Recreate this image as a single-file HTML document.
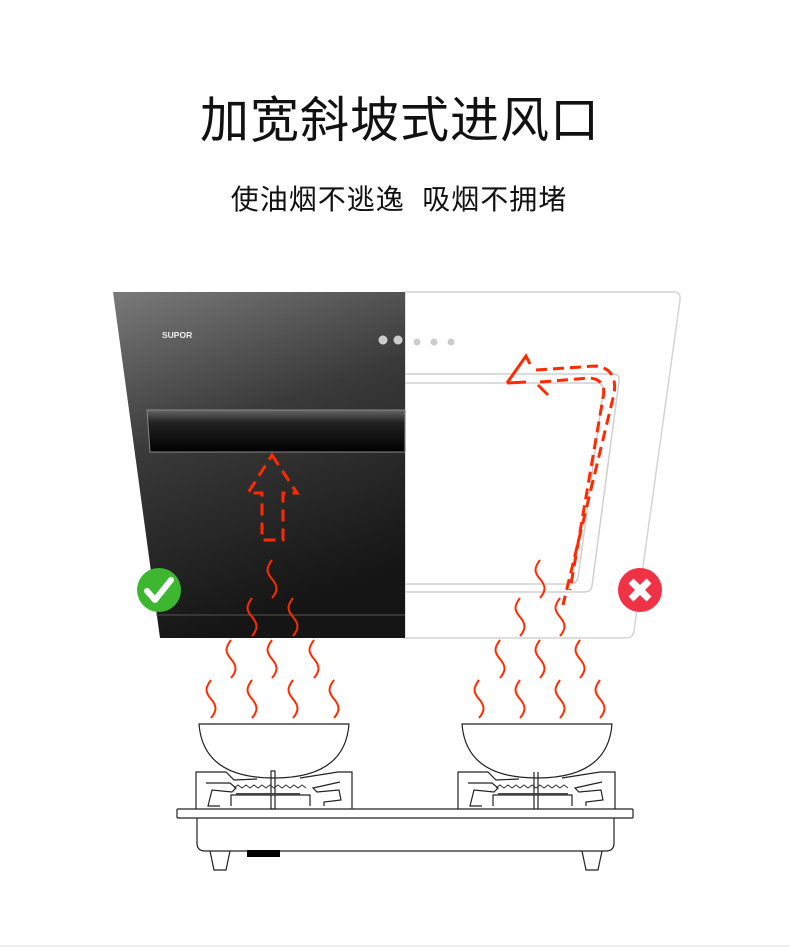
<!DOCTYPE html>
<html><head><meta charset="utf-8"><style>
html,body{margin:0;padding:0;background:#fff;}
body{width:790px;height:950px;overflow:hidden;position:relative;}
.t{position:absolute;left:0;width:790px;text-align:center;font-family:"Liberation Sans","Noto Sans CJK SC",sans-serif;color:#111;}
</style></head><body>
<div class="t" style="top:81px;left:5px;font-size:49px;letter-spacing:1px;">加宽斜坡式进风口</div>
<div class="t" style="top:178px;left:4px;font-size:28px;letter-spacing:1px;">使油烟不逃逸&nbsp;&nbsp;吸烟不拥堵</div>
<svg width="790" height="950" style="position:absolute;left:0;top:0">
<defs>
<linearGradient id="dk" x1="0" y1="0" x2="0.3" y2="1"><stop offset="0" stop-color="#7a7a7a"/><stop offset="0.45" stop-color="#3a3a3a"/><stop offset="1" stop-color="#151515"/></linearGradient>
<linearGradient id="bar" x1="0" y1="0" x2="0" y2="1"><stop offset="0" stop-color="#666"/><stop offset="0.3" stop-color="#222"/><stop offset="1" stop-color="#000"/></linearGradient>
<path id="sq" d="M0,0 c-6,8 -6,12 0,19 c6,7 6,12 0,19" fill="none" stroke="#ff2a00" stroke-width="2"/>
</defs>
<path d="M405,292 L674,292 Q681,292 680,300 L634,631 Q633,638 626,638 L405,638 Z" fill="#fff" stroke="#d4d4d4" stroke-width="1.5"/>
<path d="M405,374 L613,374 Q620,374 619,381 L592,586 Q591,592 584,592 L405,592" fill="none" stroke="#d0d0d0" stroke-width="1.5"/>
<path d="M405,383 L598,383 Q604,384 603,392 L578,578 Q576,584 570,584 L405,584" fill="none" stroke="#d0d0d0" stroke-width="1.5"/>
<circle cx="417" cy="342" r="3.5" fill="#ccc"/><circle cx="434" cy="342" r="3.5" fill="#ccc"/><circle cx="451" cy="342" r="3.5" fill="#ccc"/>
<path d="M113,292 L405,292 L405,638 L160,638 Z" fill="url(#dk)"/>
<path d="M147,410 L405,410 L405,452 L150,452 Z" fill="url(#bar)" stroke="#888" stroke-width="1"/>
<line x1="156" y1="615" x2="405" y2="615" stroke="#555" stroke-width="1"/>
<text x="162" y="338" font-family="Liberation Sans,sans-serif" font-size="8.5" font-weight="bold" fill="#eee">SUPOR</text>
<circle cx="383" cy="340" r="4.5" fill="#ccc"/><circle cx="398" cy="340" r="4.5" fill="#ccc"/>
<path d="M272,455 L297,493 L283,493 L283,540 L262,540 L262,493 L248,493 Z" fill="none" stroke="#ff2a00" stroke-width="3" stroke-dasharray="12,7"/>
<path d="M536,370 L595,366 Q618,368 614,394 L563,605" fill="none" stroke="#ff2a00" stroke-width="3" stroke-dasharray="11,6"/>
<path d="M540,382 L590,378 Q607,380 603,398 L570,590" fill="none" stroke="#ff2a00" stroke-width="3" stroke-dasharray="11,6"/>
<path d="M507,383 L526,356 L530,364 M538,385 L548,395" fill="none" stroke="#ff2a00" stroke-width="3"/>
<path d="M507,383 L526,382" fill="none" stroke="#ff2a00" stroke-width="3"/>
<circle cx="159" cy="590" r="22" fill="#3cb72f"/>
<path d="M147,591 L155,600 L171,580" fill="none" stroke="#fff" stroke-width="6" stroke-linecap="round" stroke-linejoin="round"/>
<circle cx="640" cy="590" r="22" fill="#f03246"/>
<path d="M631,581 L649,599 M649,581 L631,599" stroke="#fff" stroke-width="7"/>
<g>
<use href="#sq" x="272" y="560"/><use href="#sq" x="252" y="598"/><use href="#sq" x="293" y="598"/>
<use href="#sq" x="231" y="640"/><use href="#sq" x="272" y="640"/><use href="#sq" x="314" y="640"/>
<use href="#sq" x="211" y="680"/><use href="#sq" x="252" y="680"/><use href="#sq" x="293" y="680"/><use href="#sq" x="334" y="680"/>
<use href="#sq" x="540" y="560"/><use href="#sq" x="520" y="598"/><use href="#sq" x="560" y="598"/>
<use href="#sq" x="500" y="640"/><use href="#sq" x="540" y="640"/><use href="#sq" x="580" y="640"/>
<use href="#sq" x="479" y="680"/><use href="#sq" x="520" y="680"/><use href="#sq" x="560" y="680"/><use href="#sq" x="600" y="680"/>
</g>
<g fill="none" stroke="#222" stroke-width="1.2">
<path d="M199,724 L349,724 Q345,778 274,778 Q203,778 199,724 Z" fill="#fff"/>
<path d="M462,724 L612,724 Q608,778 537,778 Q466,778 462,724 Z" fill="#fff"/>
<path d="M196,809 L196,772 L226,772 L234,780 L257,779"/>
<path d="M352,809 L352,772 L338,772 L300,778"/>
<path d="M206,783 L230,783 L236,788 L232,792 L212,790 L208,806 L220,806 M231,806 L231,795 L310,795 L310,806 M324,806 L324,802 L341,800 L339,790 L317,792 L313,788 L340,782"/>
<rect x="271" y="771" width="4" height="38"/>
<path d="M534,809 L534,772 M538,809 L538,772"/>
<path d="M458,809 L458,772 L488,772 L496,780 L519,779"/>
<path d="M615,809 L615,772 L600,772 L562,778"/>
<path d="M468,783 L492,783 L498,788 L494,792 L474,790 L470,806 L482,806 M493,806 L493,795 L572,795 L572,806 M586,806 L586,802 L603,800 L601,790 L579,792 L575,788 L602,782"/>
<rect x="177" y="809" width="456" height="9" rx="1"/>
<path d="M197,818 L197,843 Q197,851 205,851 L606,851 Q614,851 614,843 L614,818"/>
<path d="M210,851 L214,870 L226,870 L230,851 M582,851 L586,870 L598,870 L602,851"/>
</g>
<path d="M236,794 L300,794 M498,794 L568,794" stroke="#444" stroke-width="2"/>
<path d="M234,788 l4,-3 4,3 4,-3 4,3 4,-3 4,3 4,-3 4,3 4,-3 4,3 4,-3 4,3 4,-3 4,3 4,-3 4,3 4,-3 4,3" fill="none" stroke="#333" stroke-width="1"/>
<path d="M496,788 l4,-3 4,3 4,-3 4,3 4,-3 4,3 4,-3 4,3 4,-3 4,3 4,-3 4,3 4,-3 4,3 4,-3 4,3 4,-3 4,3" fill="none" stroke="#333" stroke-width="1"/>
<rect x="247" y="850" width="33" height="7" fill="#000"/>
<line x1="0" y1="946" x2="790" y2="946" stroke="#eee" stroke-width="2"/>
</svg>
</body></html>
